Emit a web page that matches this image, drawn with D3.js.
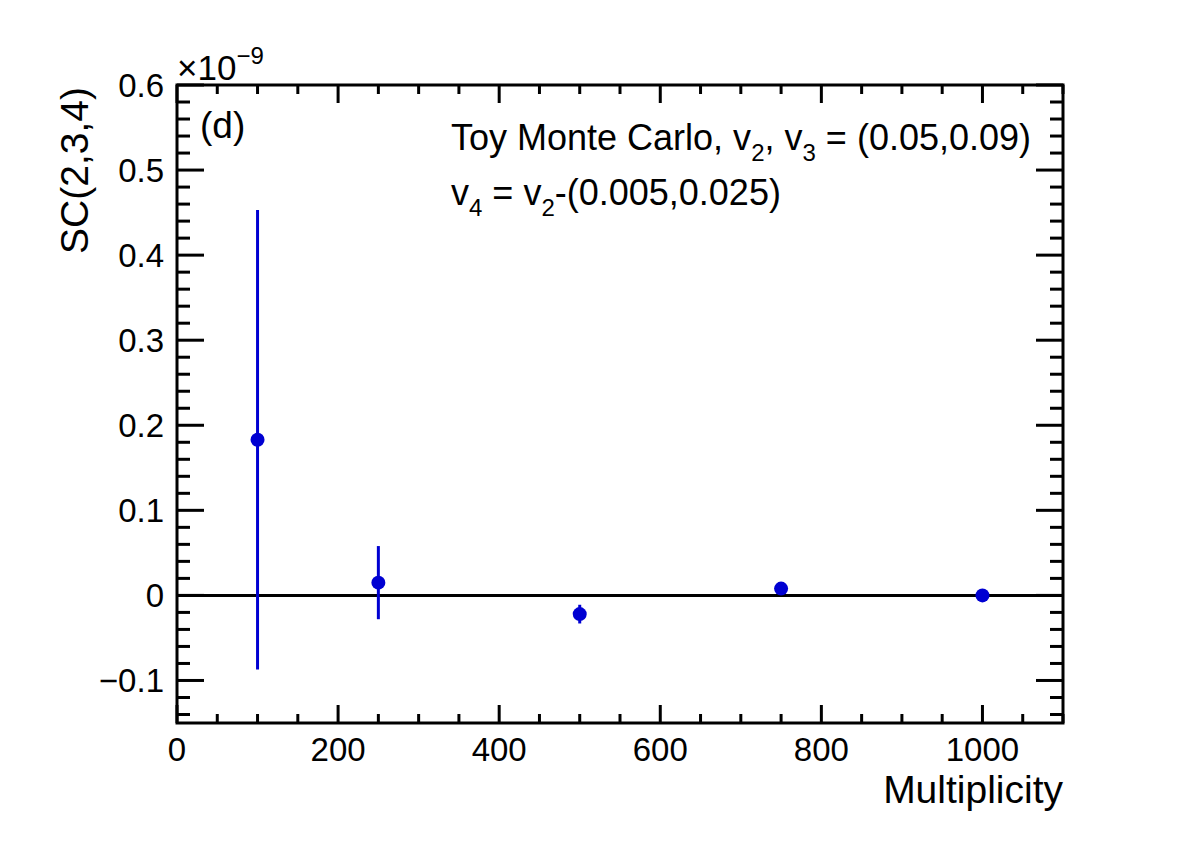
<!DOCTYPE html>
<html>
<head>
<meta charset="utf-8">
<script src="https://cdn.jsdelivr.net/npm/d3@7"></script>
<style>
  body { margin: 0; background: #fff; }
  text { font-family: "Liberation Sans", Arial, sans-serif; fill: #000; }
</style>
</head>
<body>
<div id="chart"></div>
<script>
// multiplicity bins and SC(2,3,4) values (units of 1e-9)
var mult = [100, 250, 500, 750, 1000];
var sc = [0.183, 0.015, -0.022, 0.008, 0.000];
var scErr = [0.270, 0.043, 0.011, 0.002, 0.001];
var xTicks = [0, 200, 400, 600, 800, 1000];
var yTicks = [-0.1, 0, 0.1, 0.2, 0.3, 0.4, 0.5, 0.6];

var W = 1182, H = 853;
var padL = 177, padR = 1063, padT = 85, padB = 723;
var blue = "#0000d2";

var svg = d3.select("#chart").append("svg").attr("width", W).attr("height", H);

var x = d3.scaleLinear().domain([0, 1100]).range([padL, padR]);
var y = d3.scaleLinear().domain([-0.15, 0.6]).range([padB, padT]);

// minor ticks
var xMinor = d3.range(0, 1101, 50);
var yMinor = d3.range(-14, 61, 2).map(function(d) { return d / 100; });

var ticks = svg.append("g").attr("stroke", "#000").attr("stroke-width", 3);
xMinor.forEach(function(v) {
  var major = v % 200 === 0;
  var len = major ? 18 : 9;
  ticks.append("line").attr("x1", x(v)).attr("x2", x(v)).attr("y1", padB).attr("y2", padB - len);
  ticks.append("line").attr("x1", x(v)).attr("x2", x(v)).attr("y1", padT).attr("y2", padT + len);
});
yMinor.forEach(function(v) {
  var major = Math.round(v * 100) % 10 === 0;
  var len = major ? 27 : 13;
  ticks.append("line").attr("y1", y(v)).attr("y2", y(v)).attr("x1", padL).attr("x2", padL + len);
  ticks.append("line").attr("y1", y(v)).attr("y2", y(v)).attr("x1", padR).attr("x2", padR - len);
});

// frame
svg.append("rect").attr("x", padL).attr("y", padT).attr("width", padR - padL).attr("height", padB - padT)
  .attr("fill", "none").attr("stroke", "#000").attr("stroke-width", 3);

// zero line
svg.append("line").attr("x1", padL).attr("x2", padR).attr("y1", y(0)).attr("y2", y(0))
  .attr("stroke", "#000").attr("stroke-width", 3);

// tick labels
svg.selectAll(".xl").data(xTicks).enter().append("text")
  .attr("x", function(d) { return x(d); }).attr("y", 761)
  .attr("text-anchor", "middle").attr("font-size", 33)
  .text(function(d) { return d; });

svg.selectAll(".yl").data(yTicks).enter().append("text")
  .attr("x", 164).attr("y", function(d) { return y(d) + 12; })
  .attr("text-anchor", "end").attr("font-size", 33)
  .text(function(d) { return d === 0 ? "0" : (d < 0 ? "\u2212" + Math.abs(d) : d); });

// exponent
var ex = svg.append("text").attr("x", padL).attr("y", 80).attr("font-size", 35);
ex.append("tspan").text("\u00d710");
ex.append("tspan").attr("dy", -16).attr("font-size", 24).text("\u22129");

// axis titles
svg.append("text").attr("x", padR).attr("y", 803).attr("text-anchor", "end")
  .attr("font-size", 39).text("Multiplicity");
svg.append("text").attr("transform", "translate(88,87) rotate(-90)")
  .attr("text-anchor", "end").attr("font-size", 39).text("SC(2,3,4)");

// annotations
svg.append("text").attr("x", 200).attr("y", 138).attr("font-size", 37).text("(d)");

var t1 = svg.append("text").attr("x", 451).attr("y", 150).attr("font-size", 36);
t1.append("tspan").text("Toy Monte Carlo, v");
t1.append("tspan").attr("dy", 11).attr("font-size", 24).text("2");
t1.append("tspan").attr("dy", -11).text(", v");
t1.append("tspan").attr("dy", 11).attr("font-size", 24).text("3");
t1.append("tspan").attr("dy", -11).text(" = (0.05,0.09)");

var t2 = svg.append("text").attr("x", 451).attr("y", 205).attr("font-size", 36);
t2.append("tspan").text("v");
t2.append("tspan").attr("dy", 11).attr("font-size", 24).text("4");
t2.append("tspan").attr("dy", -11).text(" = v");
t2.append("tspan").attr("dy", 11).attr("font-size", 24).text("2");
t2.append("tspan").attr("dy", -11).text("-(0.005,0.025)");

// data
var pts = mult.map(function(m, i) { return { m: m, v: sc[i], e: scErr[i] }; });

svg.selectAll(".err").data(pts).enter().append("line")
  .attr("x1", function(d) { return x(d.m); }).attr("x2", function(d) { return x(d.m); })
  .attr("y1", function(d) { return y(d.v + d.e); }).attr("y2", function(d) { return y(d.v - d.e); })
  .attr("stroke", blue).attr("stroke-width", 3);

svg.selectAll(".pt").data(pts).enter().append("circle")
  .attr("cx", function(d) { return x(d.m); }).attr("cy", function(d) { return y(d.v); })
  .attr("r", 7).attr("fill", blue);
</script>
</body>
</html>
